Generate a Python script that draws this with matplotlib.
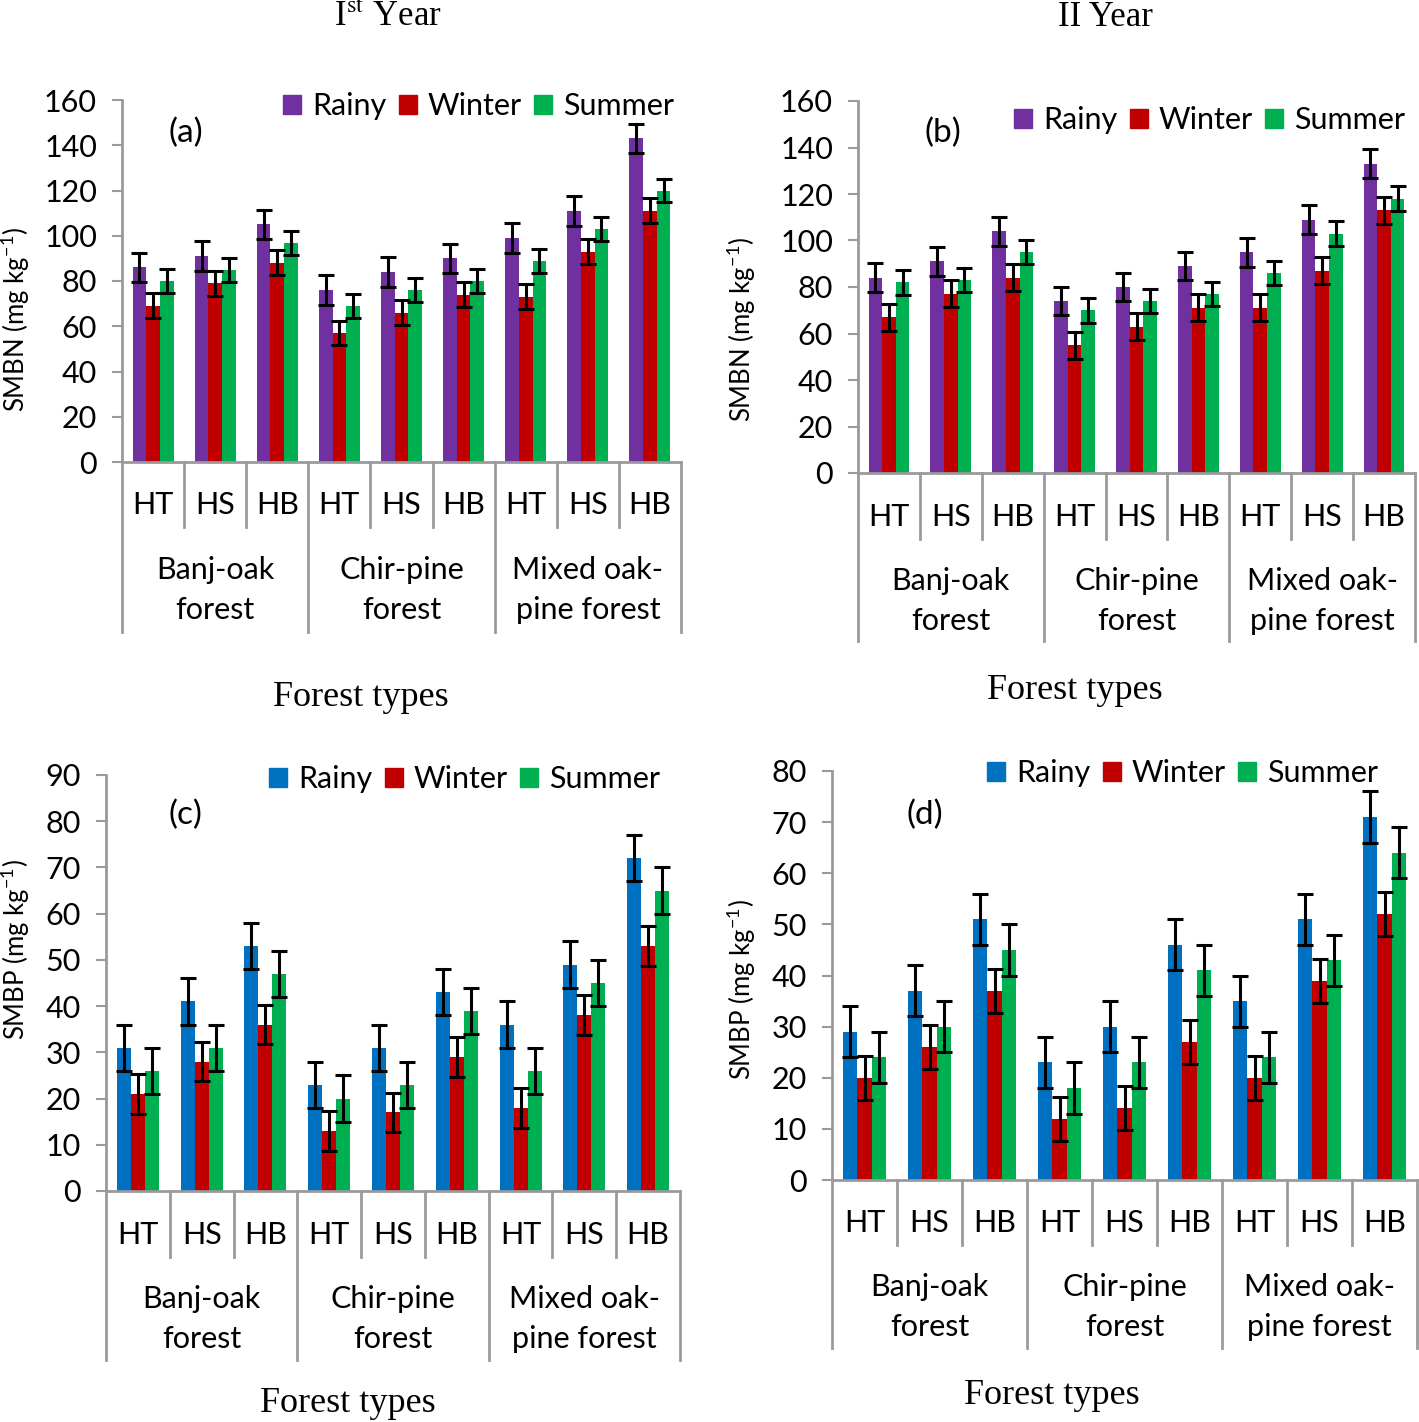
#importing the required libraries
import numpy as np
import matplotlib.pyplot as plt
from matplotlib.patches import Patch
from matplotlib.transforms import blended_transform_factory

plt.rcParams['font.family'] = ['Lato', 'DejaVu Sans']
plt.rcParams['mathtext.fontset'] = 'custom'
plt.rcParams['mathtext.rm'] = 'Lato'

W, H = 1419, 1422

#categories
sites = ['HT', 'HS', 'HB'] * 3
forests = ['Banj-oak\nforest', 'Chir-pine\nforest', 'Mixed oak-\npine forest']
seasons = ['Rainy', 'Winter', 'Summer']

#(a) SMBN first year
smbn1_rainy = [86, 91, 105, 76, 84, 90, 99, 111, 143]
smbn1_winter = [69, 79, 88, 57, 66, 74, 73, 93, 111]
smbn1_summer = [80, 85, 97, 69, 76, 80, 89, 103, 120]
smbn1_err = [6.5, 5.5, 5.3]

#(b) SMBN second year
smbn2_rainy = [84, 91, 104, 74, 80, 89, 95, 109, 133]
smbn2_winter = [67, 77, 84, 55, 63, 71, 71, 87, 113]
smbn2_summer = [82, 83, 95, 70, 74, 77, 86, 103, 118]
smbn2_err = [6.2, 5.8, 5.3]

#(c) SMBP first year
smbp1_rainy = [31, 41, 53, 23, 31, 43, 36, 49, 72]
smbp1_winter = [21, 28, 36, 13, 17, 29, 18, 38, 53]
smbp1_summer = [26, 31, 47, 20, 23, 39, 26, 45, 65]
smbp1_err = [5, 4.3, 5]

#(d) SMBP second year
smbp2_rainy = [29, 37, 51, 23, 30, 46, 35, 51, 71]
smbp2_winter = [20, 26, 37, 12, 14, 27, 20, 39, 52]
smbp2_summer = [24, 30, 45, 18, 23, 41, 24, 43, 64]
smbp2_err = [5, 4.3, 5]

purple, red, green, blue = '#7030A0', '#C00000', '#00B050', '#0070C0'
grey = '#9a9a9a'

fig = plt.figure(figsize=(W / 100, H / 100), dpi=100)


def fx(px):
    return px / W


def fy(py):
    return 1 - py / H


def panel(box, series, errs, colors, ymax, ystep, tag, tagpos, legpos,
          ylabel, ylabpos, lab_y, grp_y, inner_end, grp_end, xlabpos):
    left, top, right, bottom = box
    ax = fig.add_axes([fx(left), fy(bottom), fx(right - left), (bottom - top) / H])
    x = np.arange(len(sites))
    w = 0.22
    for i, (vals, err, col) in enumerate(zip(series, errs, colors)):
        ax.bar(x + (i - 1) * w, vals, w, color=col, zorder=2)
        ax.errorbar(x + (i - 1) * w, vals, yerr=err, fmt='none', ecolor='black',
                    elinewidth=2.2, capsize=6, capthick=2.2, zorder=3)
    ax.set_xlim(-0.5, len(sites) - 0.5)
    ax.set_ylim(0, ymax)
    ax.set_yticks(np.arange(0, ymax + 1, ystep))
    ax.tick_params(axis='y', labelsize=22, direction='out', length=7, width=1.5,
                   color=grey, pad=11)
    ax.set_xticks([])
    for s in ['top', 'right']:
        ax.spines[s].set_visible(False)
    for s in ['left', 'bottom']:
        ax.spines[s].set_color(grey)
        ax.spines[s].set_linewidth(2)

    #category axis below the plot
    tr = blended_transform_factory(ax.transData, fig.transFigure)
    for k in range(len(sites) + 1):
        xe = k - 0.5
        end = grp_end if k % 3 == 0 else inner_end
        ax.plot([xe, xe], [fy(bottom), fy(end)], color=grey, lw=2,
                transform=tr, clip_on=False)
    for k, s in enumerate(sites):
        ax.text(k, fy(lab_y), s, transform=tr, ha='center', va='center', fontsize=22)
    for g, name in enumerate(forests):
        ax.text(3 * g + 1, fy(grp_y), name, transform=tr, ha='center', va='center',
                fontsize=22, linespacing=1.55)

    fig.text(fx(xlabpos[0]), fy(xlabpos[1]), 'Forest types', ha='center', va='center',
             fontsize=26, family='Liberation Serif')
    fig.text(fx(ylabpos[0]), fy(ylabpos[1]), ylabel, ha='center', va='center',
             rotation=90, fontsize=18.5)
    fig.text(fx(tagpos[0]), fy(tagpos[1]), tag, ha='center', va='center', fontsize=24)

    handles = [Patch(color=c) for c in colors]
    ax.legend(handles, seasons, loc='center left', ncol=3, frameon=False,
              bbox_to_anchor=(fx(legpos[0]), fy(legpos[1])), bbox_transform=fig.transFigure,
              fontsize=22, handlelength=0.6, handleheight=0.6, handletextpad=0.35,
              columnspacing=0.4, borderpad=0, borderaxespad=0)
    return ax


panel((122, 100, 681, 462), [smbn1_rainy, smbn1_winter, smbn1_summer], smbn1_err,
      [purple, red, green], 160, 20, '(a)', (186, 133), (283, 106),
      'SMBN (mg kg$^{-1}$)', (15, 320), 505, 590, 527, 632, (361, 697))
panel((858, 101, 1415, 473), [smbn2_rainy, smbn2_winter, smbn2_summer], smbn2_err,
      [purple, red, green], 160, 20, '(b)', (943, 133), (1014, 120),
      'SMBN (mg kg$^{-1}$)', (741, 330), 517, 601, 539, 641, (1075, 690))
panel((106, 775, 680, 1191), [smbp1_rainy, smbp1_winter, smbp1_summer], smbp1_err,
      [blue, red, green], 90, 10, '(c)', (185, 815), (269, 779),
      'SMBP (mg kg$^{-1}$)', (15, 950), 1235, 1319, 1257, 1360, (348, 1403))
panel((832, 771, 1417, 1180), [smbp2_rainy, smbp2_winter, smbp2_summer], smbp2_err,
      [blue, red, green], 80, 10, '(d)', (925, 815), (987, 773),
      'SMBP (mg kg$^{-1}$)', (741, 990), 1223, 1307, 1245, 1348, (1052, 1395))

fig.text(fx(388), fy(18), r'I$^{\mathrm{st}}$ Year', ha='center', va='center',
         fontsize=25, family='Liberation Serif', math_fontfamily='stix')
fig.text(fx(1105), fy(18), 'II Year', ha='center', va='center',
         fontsize=25, family='Liberation Serif')

plt.savefig('out.png', dpi=100)
